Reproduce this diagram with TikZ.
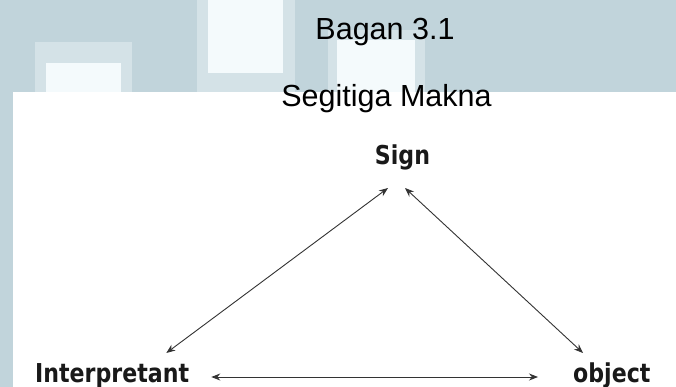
\documentclass[tikz,border=0pt]{standalone}
\usepackage{fontspec}
\setmainfont{Liberation Sans}
\newfontfamily\labfont{DejaVu Sans}[FakeStretch=0.85]
\usetikzlibrary{arrows.meta}
\definecolor{bgblue}{RGB}{193,212,219}
\definecolor{sqedge}{RGB}{212,226,231}
\definecolor{sqin}{RGB}{244,250,252}
\tikzset{
  titletext/.style={font=\fontsize{30.5}{36}\selectfont, inner sep=0pt, anchor=base, text=black},
  lab/.style={font=\labfont\bfseries\fontsize{26}{31}\selectfont, inner sep=0pt, text=black!90},
  arr/.style={{Stealth[length=9pt,width=7pt]}-{Stealth[length=9pt,width=7pt]}, line width=0.9pt, draw=black!80},
}
\begin{document}
\begin{tikzpicture}[x=1pt,y=-1pt]
\useasboundingbox (0,0) rectangle (676,387);
\fill[bgblue] (0,0) rectangle (676,387);
% faint light squares
\fill[sqedge] (35,42) rectangle (132,92);
\fill[sqin] (46,63) rectangle (121,92);
\fill[sqedge] (197,0) rectangle (295,92);
\fill[sqin] (208,0) rectangle (283,73);
\fill[sqedge] (328,30) rectangle (425,92);
\fill[sqin] (337,40) rectangle (415,92);
% white panel
\fill[white] (13,92) rectangle (676,387);
% titles
\node[titletext] (t1) at (385,40) {Bagan 3.1};
\node[titletext] (t2) at (386.5,107) {Segitiga Makna};
% labels
\node[lab, anchor=base] (sign) at (402.5,165) {Sign};
\node[lab, anchor=base west] (interp) at (35,382) {Interpretant};
\node[lab, anchor=base west] (obj) at (573,382) {object};
% connectors
\draw[arr] ([xshift=-14.5pt,yshift=-23pt]sign.base) -- ([xshift=-23pt,yshift=29pt]interp.base east);
\draw[arr] ([xshift=2.5pt,yshift=-23pt]sign.base) -- ([xshift=10pt,yshift=29pt]obj.base west);
\draw[arr] ([xshift=22pt,yshift=5pt]interp.base east) -- ([xshift=-35pt,yshift=5pt]obj.base west);
\end{tikzpicture}
\end{document}
